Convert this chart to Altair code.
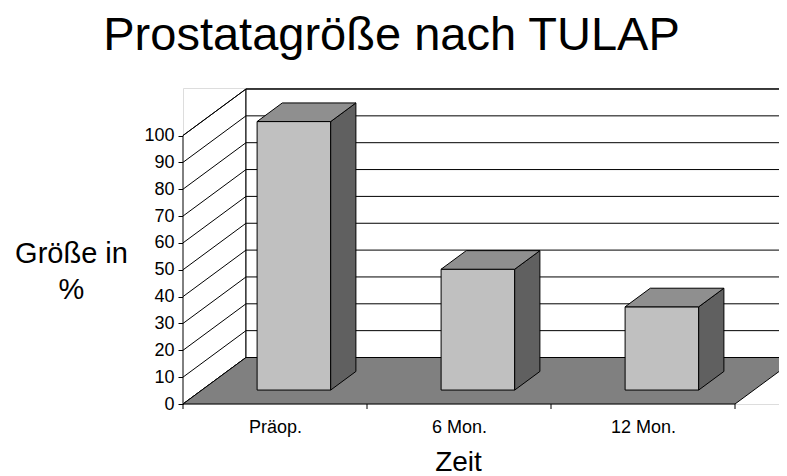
import json
import altair as alt
import pandas as pd

# ---------------- data ----------------
chart_title = "Prostatagröße nach TULAP"
categories = ["Präop.", "6 Mon.", "12 Mon."]
values = [100, 45, 31]
y_ticks = [0, 10, 20, 30, 40, 50, 60, 70, 80, 90, 100]
y_title = ["Größe in", "%"]
x_title = "Zeit"

# ---------------- geometry / style ----------------
PX_PER_X = 184.0          # pixels per category slot
PX_PER_Y = 2.685          # pixels per percent
W, H = 596, 316           # plot area
DX = 63.0 / PX_PER_X      # oblique depth offset (x units)
DY = 46.5 / PX_PER_Y      # oblique depth offset (y units)
N = len(categories)
YMAX = max(y_ticks)
BX0, BX1 = 0.3, 0.7       # bar extent inside slot
BD0, BD1 = 0.3, 0.7       # bar extent in depth

C_FLOOR = "#808080"
C_FRONT = "#c0c0c0"
C_TOP = "#8f8f8f"
C_SIDE = "#606060"
FONT = "Liberation Sans"

xs = alt.Scale(domain=[0, W / PX_PER_X], nice=False, zero=False)
ys = alt.Scale(domain=[0, H / PX_PER_Y], nice=False, zero=False)

# vertical faces (x, y, y2)
vert = []
def vface(fid, fill, pts, kind):
    for x, y, y2 in pts:
        vert.append({"id": fid, "fill": fill, "x": x, "y": y, "y2": y2, "kind": kind})

vface("leftwall", "white", [(0, 0, YMAX), (DX, DY, YMAX + DY)], "wall")
vface("backwall", "white", [(DX, DY, YMAX + DY), (N + DX, DY, YMAX + DY)], "wall")

horiz = []
def hface(fid, fill, pts, kind):
    for y, x, x2 in pts:
        horiz.append({"id": fid, "fill": fill, "y": y, "x": x, "x2": x2, "kind": kind})

hface("floor", C_FLOOR, [(0, 0, N), (DY, DX, N + DX)], "floor")

for i, (c, v) in enumerate(zip(categories, values)):
    x0, x1 = i + BX0, i + BX1
    vface(f"front{i}", C_FRONT,
          [(x0 + BD0 * DX, BD0 * DY, v + BD0 * DY), (x1 + BD0 * DX, BD0 * DY, v + BD0 * DY)], "bar")
    vface(f"side{i}", C_SIDE,
          [(x1 + BD0 * DX, BD0 * DY, v + BD0 * DY), (x1 + BD1 * DX, BD1 * DY, v + BD1 * DY)], "bar")
    hface(f"top{i}", C_TOP,
          [(v + BD0 * DY, x0 + BD0 * DX, x1 + BD0 * DX), (v + BD1 * DY, x0 + BD1 * DX, x1 + BD1 * DX)], "bar")

vdf = pd.DataFrame(vert)
hdf = pd.DataFrame(horiz)

grid = []
for t in y_ticks:
    grid.append({"x": DX, "x2": N + DX, "y": t + DY, "y2": t + DY})   # back wall
    grid.append({"x": 0, "x2": DX, "y": t, "y2": t + DY})              # side wall
gdf = pd.DataFrame(grid)

tdf = pd.DataFrame({"x": list(range(N + 1)), "y": [0] * (N + 1)})

label_expr = json.dumps(categories, ensure_ascii=False) + "[floor(datum.value)]"

x_axis = alt.Axis(values=[i + 0.5 for i in range(N)], labelExpr=label_expr, ticks=False,
                  tickSize=0, domain=False, grid=False, labelPadding=28,
                  labelBaseline="alphabetic", labelFontSize=18, labelFont=FONT,
                  labelColor="black", title=x_title, titleFont=FONT, titleFontSize=28,
                  titleFontWeight="normal", titleColor="black", titleX=275, titleY=66,
                  titleAlign="center", titleBaseline="alphabetic", labelFlush=False)
y_axis = alt.Axis(values=y_ticks, tickSize=5, tickColor="black", domain=False, grid=False,
                  labelFontSize=18, labelFont=FONT, labelColor="black", labelPadding=4,
                  title=y_title, titleAngle=0, titleAlign="center", titleBaseline="alphabetic",
                  titleX=-112, titleY=174, titleFontSize=29, titleFont=FONT,
                  titleFontWeight="normal", titleColor="black", titleLineHeight=36,
                  labelFlush=False)

X = lambda f: alt.X(f, scale=xs, axis=x_axis)
Y = lambda f: alt.Y(f, scale=ys, axis=y_axis)

walls = alt.Chart(vdf).transform_filter(alt.datum.kind == "wall").mark_area(
    stroke="black", strokeWidth=1, orient="vertical"
).encode(
    x=X("x:Q"),
    y=alt.Y("y:Q", scale=ys, axis=y_axis, stack=None),
    y2="y2:Q",
    fill=alt.Fill("fill:N", scale=None),
    detail="id:N",
)

gridlines = alt.Chart(gdf).mark_rule(color="black", strokeWidth=1).encode(
    x=X("x:Q"), x2="x2:Q",
    y=Y("y:Q"), y2="y2:Q",
)

floor = alt.Chart(hdf).transform_filter(alt.datum.kind == "floor").mark_area(
    stroke="black", strokeWidth=1, orient="horizontal"
).encode(
    y=Y("y:Q"),
    x=alt.X("x:Q", scale=xs, axis=x_axis, stack=None),
    x2="x2:Q",
    fill=alt.Fill("fill:N", scale=None),
    detail="id:N",
)

bar_vert = alt.Chart(vdf).transform_filter(alt.datum.kind == "bar").mark_area(
    stroke="black", strokeWidth=1, orient="vertical"
).encode(
    x=X("x:Q"),
    y=alt.Y("y:Q", scale=ys, axis=y_axis, stack=None),
    y2="y2:Q",
    fill=alt.Fill("fill:N", scale=None),
    detail="id:N",
)

bar_top = alt.Chart(hdf).transform_filter(alt.datum.kind == "bar").mark_area(
    stroke="black", strokeWidth=1, orient="horizontal"
).encode(
    y=Y("y:Q"),
    x=alt.X("x:Q", scale=xs, axis=x_axis, stack=None),
    x2="x2:Q",
    fill=alt.Fill("fill:N", scale=None),
    detail="id:N",
)

xticks = alt.Chart(tdf).mark_rule(color="black", strokeWidth=1).encode(
    x=X("x:Q"),
    y=Y("y:Q"),
    y2=alt.value(H + 5),
)

chart = alt.layer(walls, gridlines, floor, bar_vert, bar_top, xticks).properties(
    width=W, height=H,
    title=alt.TitleParams(chart_title, fontSize=47, font=FONT, fontWeight="normal",
                          color="black", anchor="middle", dx=-89.5, dy=47, offset=37,
                          baseline="alphabetic", frame="group"),
    padding={"left": 175, "top": 80, "right": 0, "bottom": 72},
    autosize=alt.AutoSizeParams(type="none"),
).configure_view(stroke=None).configure(background="white")

chart.save("out.html", embed_options={"renderer": "svg", "actions": False})
